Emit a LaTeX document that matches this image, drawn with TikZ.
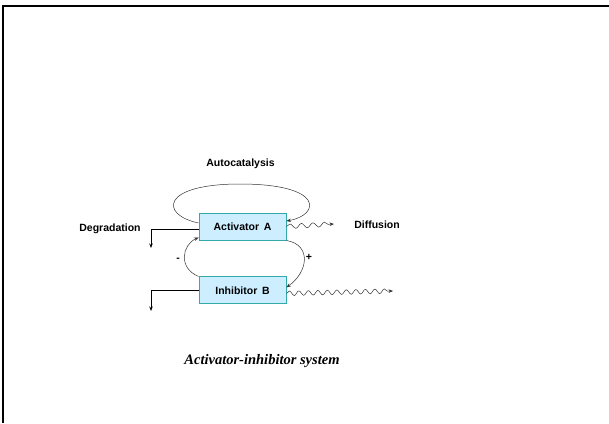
\documentclass[tikz,border=0pt]{standalone}
\usepackage{fontspec}
\setmainfont{Liberation Sans}
\newfontfamily\capfont{Liberation Serif}
\usetikzlibrary{positioning}
\usetikzlibrary{arrows.meta}
\usetikzlibrary{decorations.pathmorphing}

\definecolor{boxfill}{RGB}{204,238,255}
\definecolor{boxedge}{RGB}{51,170,170}

\tikzset{
  species/.style={draw=boxedge, fill=boxfill, line width=0.9pt, minimum width=87pt,
    minimum height=27pt, inner sep=0pt, font=\fontsize{10.5}{12}\selectfont\bfseries},
  lbl/.style={font=\fontsize{10.5}{12}\selectfont\bfseries},
  link/.style={draw=black!80, line width=0.5pt, -{Stealth[length=4.5pt,width=3.5pt]}},
  diffuse/.style={link, decorate, decoration={snake, amplitude=2.3pt, segment length=#1, post length=4pt}},
  decay/.style={line width=0.8pt, -{Stealth[length=4.5pt,width=3.5pt]}}
}

\begin{document}
\begin{tikzpicture}[x=1pt, y=-1pt]
            \useasboundingbox (0,0) rectangle (609,423);
            \draw[line width=2pt] (3,423) -- (3,6) -- (609,6);
            % the two species
            \node[species] (actA) at (242.5,226.5) {Activator\hspace{0.45em}A};
            \node[species, below=36pt of actA] (inhB) {Inhibitor\hspace{0.45em}B};
            % labels
            \node[lbl] (autoLbl) at (240.5,164) {Autocatalysis};
            \node[lbl] (degLbl) at (110,229) {Degradation};
            \node[lbl] (diffLbl) at (377,225) {Diffusion};
            \node[lbl] (plusLbl) at (309,257) {+};
            \node[lbl] (minusLbl) at (178,260) {-};
            \node[font=\capfont\fontsize{14.5}{16}\selectfont\bfseries\itshape] (capLbl) at (262,361) {Activator-inhibitor system};
            \coordinate (sinkA) at (151,248);
            \coordinate (sinkB) at (151,311);
            \coordinate (outA) at (334,224);
            \coordinate (outB) at (393,291);
            \coordinate (loopTop) at (240,184);
            % degradation
            \draw[decay] ([yshift=-3pt]actA.west) -| (sinkA);
            \draw[decay] (inhB.west) -| (sinkB);
            % feedback loops
            \draw[link] ([yshift=3.5pt]actA.west) .. controls (160,215) and (160,184) .. (loopTop)
                .. controls (325,184) and (320,215) .. ([yshift=5.5pt]actA.east);
            \draw[link] (actA.south east) .. controls (312,245) and (308,272) .. ([yshift=3pt]inhB.east);
            \draw[link] (inhB.north west) .. controls (178,268) and (182,245) .. ([yshift=3pt]actA.south west);
            % diffusion
            \draw[diffuse=11.5pt] (actA.east) -- (outA);
            \draw[diffuse=9.5pt] ([yshift=-3pt]inhB.east) -- (outB);
        \end{tikzpicture}
\end{document}
